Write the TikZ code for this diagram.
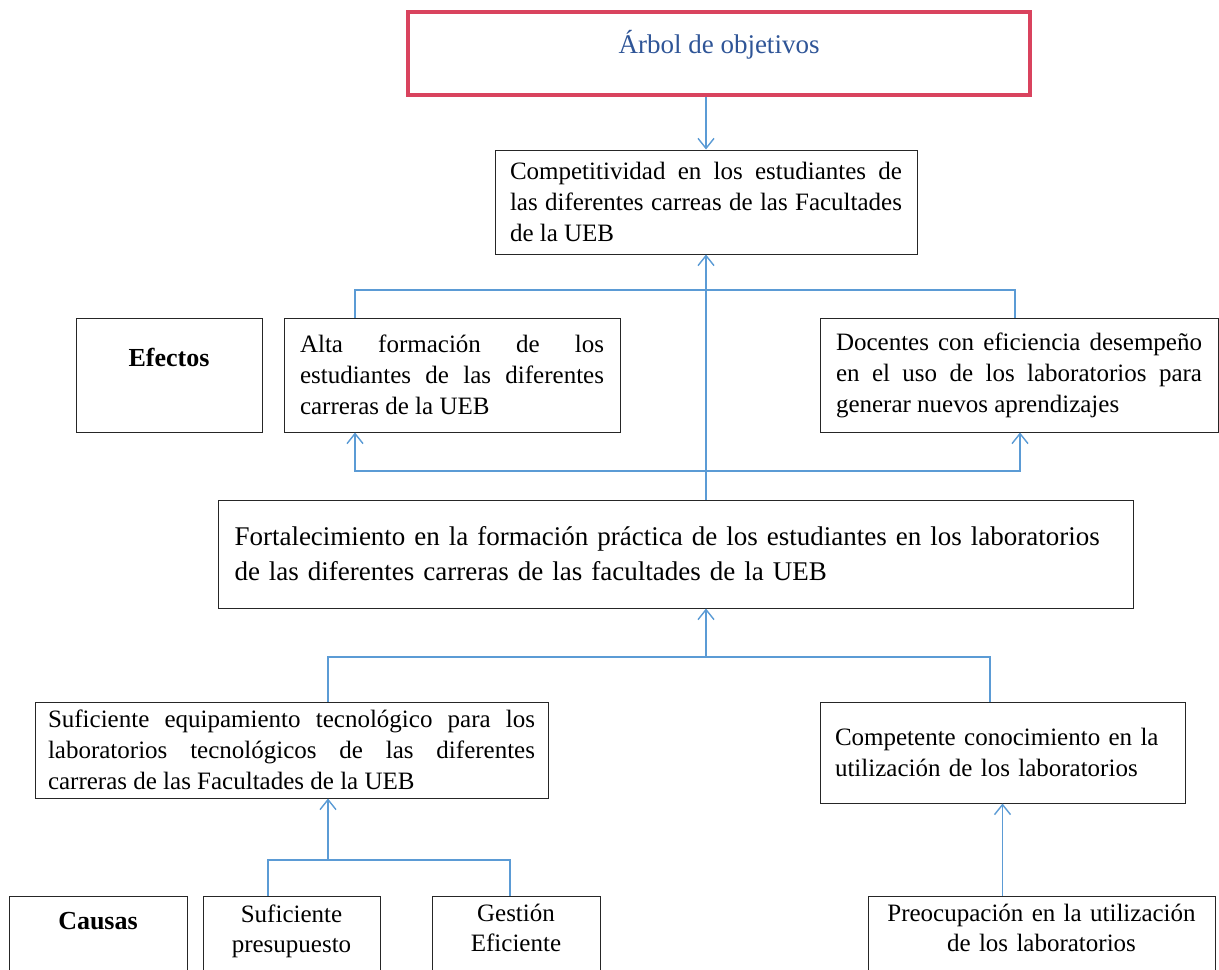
\documentclass[tikz,border=0pt]{standalone}
\usepackage{fontspec}
\setmainfont{Liberation Serif}
\usetikzlibrary{arrows.meta}

\definecolor{azul}{HTML}{5B9BD5}
\definecolor{rojo}{HTML}{D9435E}
\definecolor{titazul}{HTML}{2F5597}

\tikzstyle{caja} = [rectangle, draw=black!85, line width=0.5pt, inner xsep=8pt, align=justify, font=\fontsize{12.5}{15.5}\selectfont]
\tikzstyle{titulo} = [rectangle, draw=rojo, line width=2pt, text=titazul, font=\fontsize{13.5}{16}\selectfont]
\tikzstyle{etiqueta} = [rectangle, draw=black!85, line width=0.5pt, anchor=north, font=\bfseries\fontsize{13}{16}\selectfont]
\tikzstyle{abajo} = [caja, anchor=north, align=center, inner xsep=6pt, inner ysep=4pt, text depth=30pt, font=\fontsize{12.5}{15}\selectfont]
\tikzstyle{linea} = [azul, line width=0.7pt]
\tikzstyle{arrow} = [linea, -{Straight Barb[length=5pt,width=8pt]}]
\tikzstyle{doble} = [linea, {Straight Barb[length=5pt,width=8pt]}-{Straight Barb[length=5pt,width=8pt]}]

\begin{document}
\begin{tikzpicture}

\useasboundingbox (0,0) rectangle (609.5pt,-484.5pt);
\clip (0,0) rectangle (609.5pt,-484.5pt);

\node (titulo) [titulo, minimum width=311pt, minimum height=41.5pt, inner ysep=6pt, text depth=12pt, xshift=359.5pt, yshift=-26.75pt] {Árbol de objetivos};
\node (compet) [caja, text width=196pt, inner xsep=7.5pt, minimum height=52pt, xshift=353pt, yshift=-101pt] {Competitividad en los estudiantes de\linebreak las diferentes carreas de las Facultades\linebreak de la UEB};

\node (efectos) [etiqueta, minimum width=93pt, inner ysep=15.5pt, text height=8.5pt, text depth=17.5pt, xshift=84.5pt, yshift=-159pt] {Efectos};
\node (alta) [caja, text width=152pt, minimum height=57pt, xshift=226pt, yshift=-187.5pt] {Alta formación de los\linebreak estudiantes de las diferentes\linebreak carreras de la UEB};
\node (docentes) [caja, text width=183pt, minimum height=57pt, xshift=509.5pt, yshift=-187.5pt] {Docentes con eficiencia desempeño\linebreak en el uso de los laboratorios para\linebreak generar nuevos aprendizajes};

\node (fortal) [caja, align=left, font=\fontsize{13.5}{17.5}\selectfont, text width=441pt, inner xsep=8.25pt, minimum height=54pt, xshift=337.75pt, yshift=-277pt] {Fortalecimiento en la formación práctica de los estudiantes en los laboratorios\\ de las diferentes carreras de las facultades de la UEB};

\node (sufeq) [caja, text width=243.5pt, inner xsep=6.5pt, inner ysep=2pt, minimum height=48pt, xshift=145.75pt, yshift=-375pt] {Suficiente equipamiento tecnológico para los\linebreak laboratorios tecnológicos de las diferentes\linebreak carreras de las Facultades de la UEB};
\node (compet2) [caja, align=left, text width=167.5pt, inner xsep=7.5pt, minimum height=50.5pt, xshift=501.25pt, yshift=-376.25pt] {Competente conocimiento en la\\ utilización de los laboratorios};

\node (causas) [etiqueta, minimum width=89pt, inner ysep=8pt, text height=8.5pt, text depth=40pt, xshift=49pt, yshift=-448pt] {Causas};
\node (presup) [abajo, text width=76.5pt, xshift=145.75pt, yshift=-448pt] {Suficiente\\ presupuesto};
\node (gestion) [abajo, text width=72pt, xshift=258pt, yshift=-448pt] {Gestión\\ Eficiente};
\node (preocup) [abajo, text width=161.5pt, xshift=520.75pt, yshift=-448pt] {Preocupación en la utilización\\ de los laboratorios};

\coordinate (ramaA) at (177.5pt,-145pt);
\coordinate (ramaB) at (507.5pt,-145pt);
\coordinate (ramaC) at (177.5pt,-235.5pt);
\coordinate (ramaD) at (510pt,-235.5pt);
\coordinate (ramaE) at (164pt,-328.5pt);
\coordinate (ramaF) at (495pt,-328.5pt);
\coordinate (ramaG) at (134pt,-430pt);
\coordinate (ramaH) at (255pt,-430pt);

\draw [arrow] (titulo.south -| compet.north) -- (compet.north);
\draw [arrow] (compet.south |- fortal.north) -- (compet.south);
\draw [linea] (alta.north -| ramaA) -- (ramaA) -- (ramaB) -- (docentes.north -| ramaB);
\draw [doble] (alta.south -| ramaC) -- (ramaC) -- (ramaD) -- (docentes.south -| ramaD);
\draw [arrow] (compet.south |- ramaE) -- (compet.south |- fortal.south);
\draw [linea] (sufeq.north -| ramaE) -- (ramaE) -- (ramaF) -- (compet2.north -| ramaF);
\draw [arrow] (ramaE |- ramaG) -- (sufeq.south -| ramaE);
\draw [linea] (presup.north -| ramaG) -- (ramaG) -- (ramaH) -- (gestion.north -| ramaH);
\draw [arrow] (compet2.south |- preocup.north) -- (compet2.south);

\end{tikzpicture}
\end{document}
